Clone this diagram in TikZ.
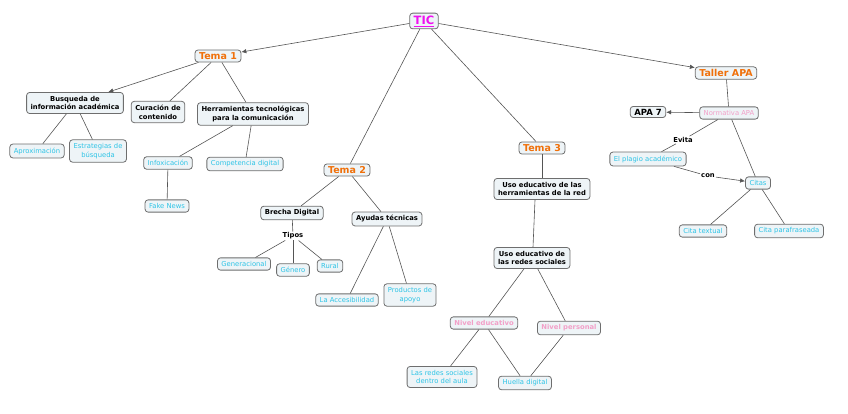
\documentclass[tikz,border=0pt]{standalone}
\usepackage{fontspec}
\setmainfont{DejaVu Sans}
\usetikzlibrary{arrows.meta}
\definecolor{boxfill}{HTML}{EEF4F7}
\definecolor{boxline}{HTML}{6E6E6E}
\definecolor{temaor}{HTML}{F0700A}
\definecolor{cyantx}{HTML}{2EC4E6}
\definecolor{pinktx}{HTML}{F2A0C8}
\definecolor{ticmag}{HTML}{F010F0}
\definecolor{linecol}{HTML}{555555}
\tikzset{
  cbox/.style={draw=boxline, fill=boxfill, rounded corners=3pt, line width=0.8pt,
    inner xsep=4pt, inner ysep=3.5pt, align=center, font=\fontsize{6.8}{8.8}\selectfont},
  blk/.style={cbox, font=\fontsize{6.8}{8.8}\selectfont\bfseries, text=black},
  cyn/.style={cbox, text=cyantx},
  pnk/.style={cbox, text=pinktx, font=\fontsize{6.8}{8.8}\selectfont\bfseries},
  tema/.style={cbox, text=temaor, font=\fontsize{9.5}{11}\selectfont\bfseries, inner ysep=2.5pt},
  lbl/.style={inner sep=1pt, font=\fontsize{6.8}{8}\selectfont\bfseries},
  conn/.style={draw=linecol, line width=0.6pt},
  arr/.style={conn, -{Latex[length=5pt,width=4.5pt]}}
}
\begin{document}
\begin{tikzpicture}[x=1pt,y=-1pt]
\useasboundingbox (0,0) rectangle (848,414);
% nodes
\node[cbox, text=ticmag, font=\fontsize{11.5}{13}\selectfont\bfseries, inner ysep=2.5pt] (tic) at (424,21) {\underline{TIC}};
\node[tema] (t1) at (218,56) {Tema 1};
\node[blk] (busq) at (75,103) {Busqueda de\\información académica};
\node[blk] (cur) at (158,112) {Curación de\\contenido};
\node[blk] (herr) at (253,114) {Herramientas tecnológicas\\para la comunicación};
\node[cyn] (aprox) at (37,151) {Aproximación};
\node[cyn] (estr) at (98,151) {Estrategias de\\búsqueda};
\node[cyn] (infox) at (168,163) {Infoxicación};
\node[cyn] (comp) at (245,164) {Competencia digital};
\node[cyn] (fake) at (167,206) {Fake News};
\node[tema] (t2) at (347,170) {Tema 2};
\node[blk] (brecha) at (292,213) {Brecha Digital};
\node[lbl] (tipos) at (293,236) {Tipos};
\node[blk] (ayud) at (387,219) {Ayudas técnicas};
\node[cyn] (gen) at (244,264) {Generacional};
\node[cyn] (gene) at (293,270) {Género};
\node[cyn] (rural) at (330,266) {Rural};
\node[cyn] (acc) at (347,300) {La Accesibilidad};
\node[cyn] (prod) at (410,295) {Productos de\\apoyo};
\node[tema] (t3) at (542,148) {Tema 3};
\node[blk] (usoh) at (542,189) {Uso educativo de las\\herramientas de la red};
\node[blk] (usor) at (532,258) {Uso educativo de\\las redes sociales};
\node[pnk] (nived) at (484,323) {Nivel educativo};
\node[pnk] (nivper) at (569,328) {Nivel personal};
\node[cyn] (aula) at (442,377) {Las redes sociales\\dentro del aula};
\node[cyn] (huella) at (525,383) {Huella digital};
\node[tema] (taller) at (726,73) {Taller APA};
\node[cbox, text=pinktx] (norm) at (729,113) {Normativa APA};
\node[blk, font=\fontsize{8.5}{10}\selectfont\bfseries, inner ysep=2.5pt] (apa7) at (648,112) {APA 7};
\node[lbl] (evita) at (683,140) {Evita};
\node[cyn] (plagio) at (648,159) {El plagio académico};
\node[lbl] (con) at (708,176) {con};
\node[cyn] (citas) at (758,183) {Citas};
\node[cyn] (ctext) at (703,231) {Cita textual};
\node[cyn] (cpara) at (789,231) {Cita parafraseada};
% connectors
\draw[arr] (tic) -- (t1);
\draw[arr] (tic) -- (taller);
\draw[conn] (tic) -- (t2);
\draw[conn] (tic) -- (t3);
\draw[arr] (t1) -- (busq);
\draw[conn] (t1) -- (cur);
\draw[conn] (t1) -- (herr);
\draw[conn] (busq) -- (aprox);
\draw[conn] (busq) -- (estr);
\draw[conn] (herr) -- (infox);
\draw[conn] (herr) -- (comp);
\draw[conn] (infox) -- (fake);
\draw[conn] (t2) -- (brecha);
\draw[conn] (t2) -- (ayud);
\draw[conn] (brecha) -- (tipos);
\draw[conn] (tipos) -- (gen);
\draw[conn] (tipos) -- (gene);
\draw[conn] (tipos) -- (rural);
\draw[conn] (ayud) -- (acc);
\draw[conn] (ayud) -- (prod);
\draw[conn] (t3) -- (usoh);
\draw[conn] ([xshift=-7pt]usoh.south) -- ([xshift=1pt]usor.north);
\draw[conn] (usor) -- (nived);
\draw[conn] (usor) -- (nivper);
\draw[conn] (nived) -- (aula);
\draw[conn] (nived) -- (huella);
\draw[conn] (nivper) -- (huella);
\draw[conn] (taller) -- (norm);
\draw[arr] (norm) -- (apa7);
\draw[conn] (norm) -- (evita);
\draw[conn] (evita) -- (plagio);
\draw[conn] (plagio) -- (con);
\draw[arr] (con) -- (citas);
\draw[conn] (norm) -- (citas);
\draw[conn] (citas) -- (ctext);
\draw[conn] (citas) -- (cpara);
\end{tikzpicture}
\end{document}
